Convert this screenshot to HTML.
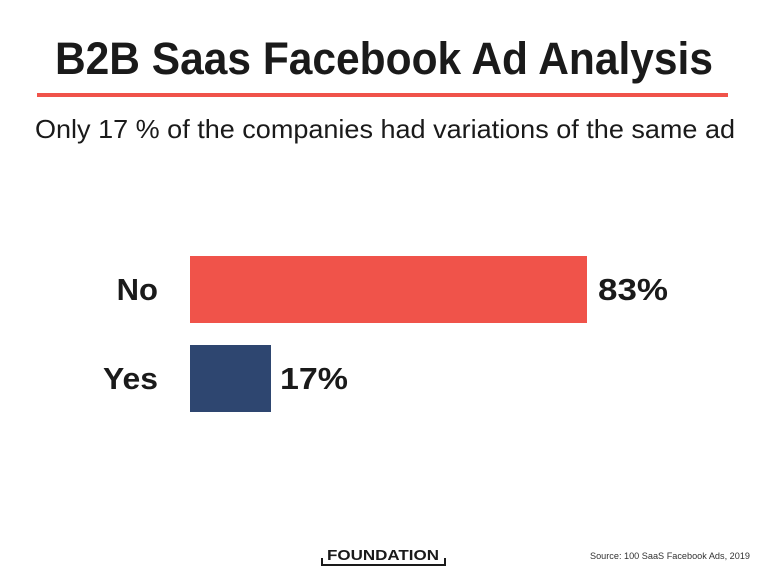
<!DOCTYPE html>
<html><head><style>body{margin:0;background:#fff}</style></head><body>
<svg width="768" height="577" xmlns="http://www.w3.org/2000/svg" style="display:block">
<rect width="768" height="577" fill="#fff"/>
<text x="55" y="74" font-family="Liberation Sans, sans-serif" font-weight="bold" font-size="45" fill="#1a1a1a" textLength="658" lengthAdjust="spacingAndGlyphs">B2B Saas Facebook Ad Analysis</text>
<rect x="37" y="93" width="691" height="4" fill="#f0534a"/>
<text x="35" y="138" font-family="Liberation Sans, sans-serif" font-size="26" fill="#1a1a1a" textLength="700" lengthAdjust="spacingAndGlyphs">Only 17 % of the companies had variations of the same ad</text>
<rect x="190" y="256" width="397" height="67" fill="#f0534a"/>
<rect x="190" y="345" width="81" height="67" fill="#2e4670"/>
<text x="158" y="300" text-anchor="end" font-family="Liberation Sans, sans-serif" font-weight="bold" font-size="31" fill="#1a1a1a">No</text>
<text x="158" y="389" text-anchor="end" font-family="Liberation Sans, sans-serif" font-weight="bold" font-size="31" fill="#1a1a1a" textLength="55" lengthAdjust="spacingAndGlyphs">Yes</text>
<text x="598" y="300" font-family="Liberation Sans, sans-serif" font-weight="bold" font-size="31" fill="#1a1a1a" textLength="70" lengthAdjust="spacingAndGlyphs">83%</text>
<text x="280" y="389" font-family="Liberation Sans, sans-serif" font-weight="bold" font-size="31" fill="#1a1a1a" textLength="68" lengthAdjust="spacingAndGlyphs">17%</text>
<text x="327" y="560" font-family="Liberation Sans, sans-serif" font-weight="bold" font-size="15" fill="#1a1a1a" textLength="112" lengthAdjust="spacingAndGlyphs">FOUNDATION</text>
<path d="M322 558 V565 H445 V558" fill="none" stroke="#1a1a1a" stroke-width="2"/>
<text x="590" y="559" font-family="Liberation Sans, sans-serif" font-size="9" fill="#333" textLength="160" lengthAdjust="spacingAndGlyphs">Source: 100 SaaS Facebook Ads, 2019</text>
</svg>
</body></html>
